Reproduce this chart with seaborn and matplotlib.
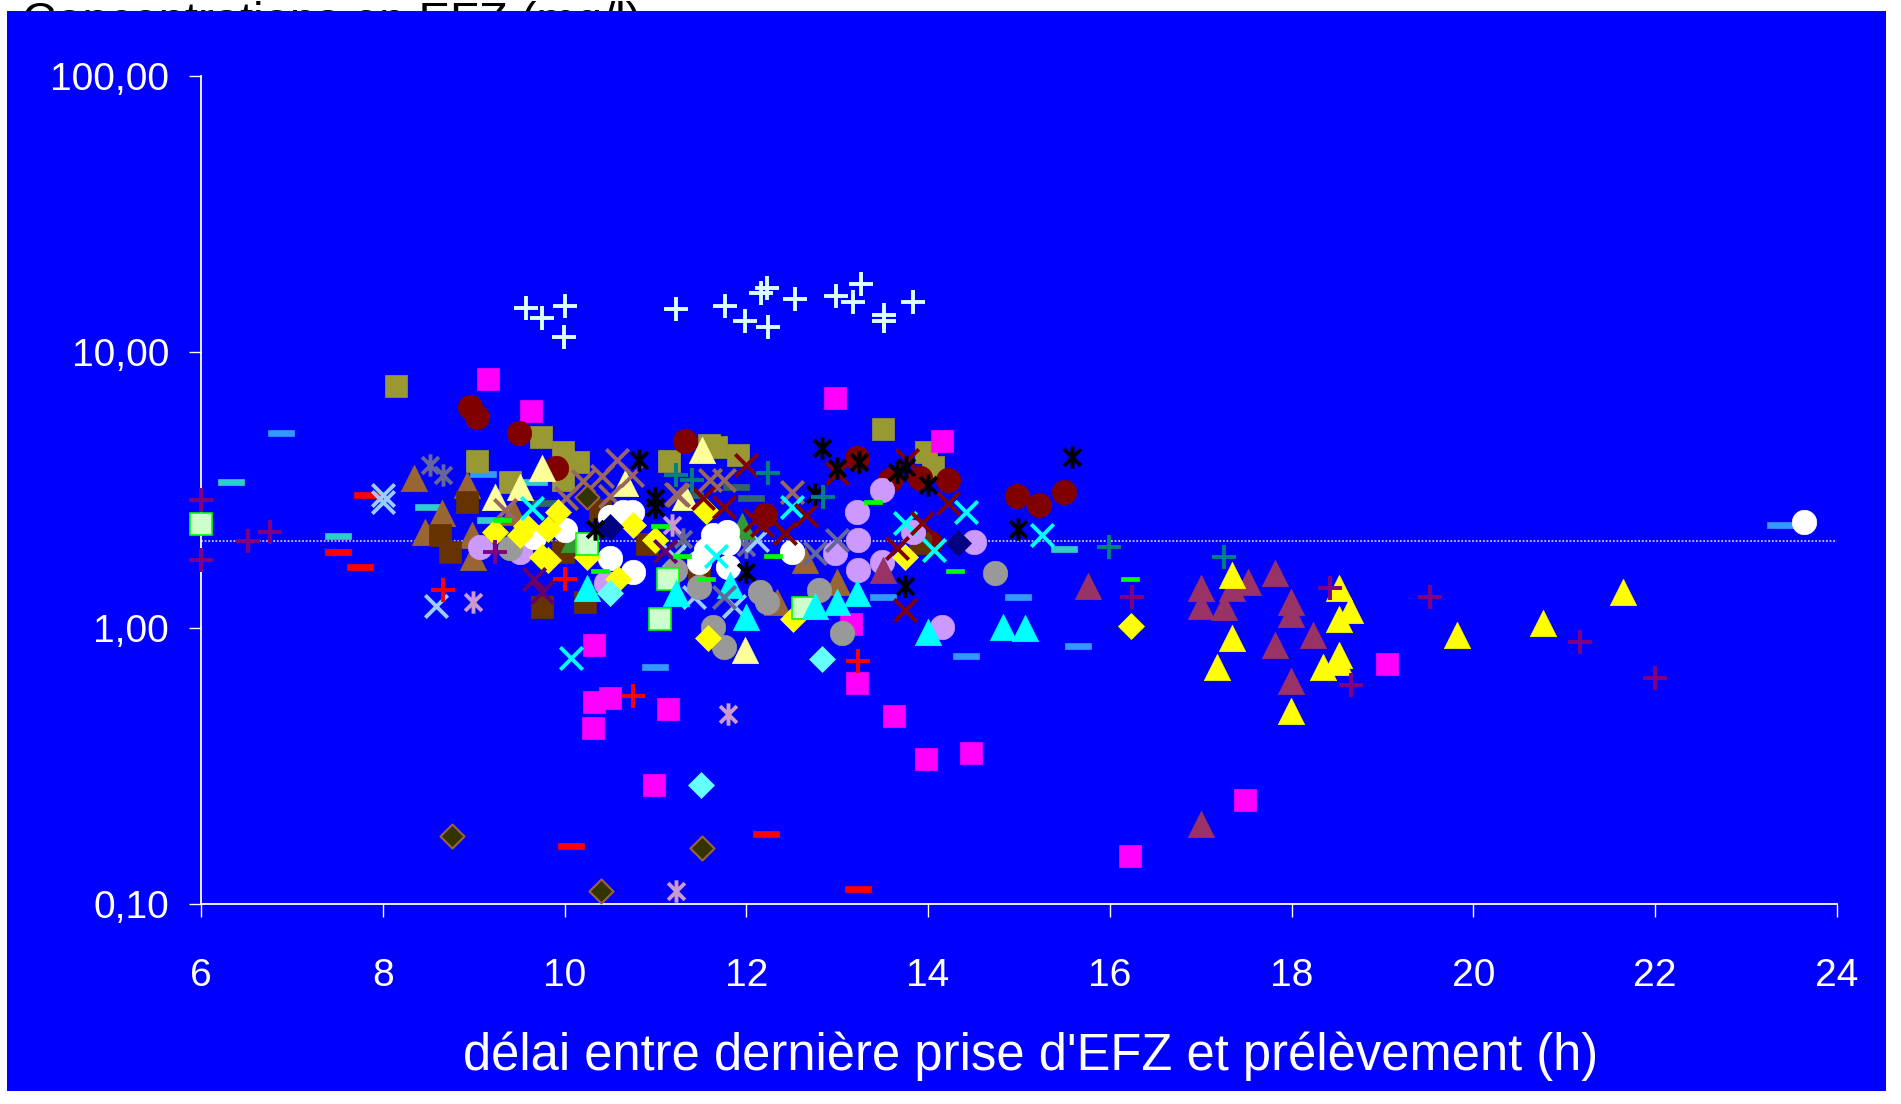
import matplotlib
matplotlib.use("Agg")
import matplotlib.pyplot as plt
import seaborn as sns
from matplotlib.patches import Rectangle
from matplotlib.path import Path
from matplotlib.ticker import FixedLocator, FixedFormatter, NullLocator

# données (délai en h, concentration en mg/l), une série par patient
wplus_x = [9.58, 9.75, 10.0, 9.99, 11.23, 11.76, 11.99, 12.16, 12.23, 12.24, 12.53, 12.99, 13.17, 13.26, 13.51, 13.51, 13.83]
wplus_y = [14.4, 13.3, 14.7, 11.3, 14.3, 14.7, 12.9, 16.3, 17.1, 12.3, 15.5, 16.0, 15.2, 17.7, 12.9, 13.6, 15.2]

magsq_x = [9.16, 9.63, 12.98, 14.15, 13.15, 13.22, 10.32, 10.32, 10.50, 10.31, 10.98, 11.14, 13.63, 13.98, 14.47, 17.49, 16.22, 19.05]
magsq_y = [7.95, 6.1, 6.8, 4.75, 1.03, 0.63, 0.87, 0.54, 0.56, 0.436, 0.27, 0.51, 0.48, 0.336, 0.353, 0.238, 0.149, 0.74]

olivesq_x = [8.15, 9.04, 9.40, 9.74, 9.98, 10.15, 9.98, 11.15, 11.59, 11.67, 11.91, 13.50, 13.98, 14.05]
olivesq_y = [7.56, 4.04, 3.37, 4.94, 4.33, 4.0, 3.43, 4.04, 4.6, 4.51, 4.25, 5.25, 4.33, 3.84]

redcirc_x = [8.96, 9.04, 9.50, 9.91, 11.33, 12.2, 13.22, 13.58, 13.91, 14.22, 14.02, 14.98, 15.22, 15.50]
redcirc_y = [6.3, 5.8, 5.1, 3.8, 4.75, 2.56, 4.12, 3.43, 3.5, 3.43, 2.03, 3.01, 2.78, 3.1]

blkstar_x = [10.34, 10.82, 10.99, 10.99, 12.0, 12.75, 12.83, 13.0, 13.24, 13.66, 13.76, 14.0, 13.75, 14.99, 15.58]
blkstar_y = [2.29, 4.07, 2.95, 2.75, 1.59, 3.07, 4.5, 3.8, 4.0, 3.68, 3.84, 3.3, 1.42, 2.29, 4.16]

rosyx_x = [9.35, 10.02, 10.41, 10.58, 10.74, 11.23, 11.25, 11.6, 11.75, 12.5, 10.2, 10.5]
rosyx_y = [2.67, 2.95, 3.54, 4.07, 3.57, 3.07, 3.04, 3.43, 3.43, 3.12, 3.4, 3.0]

redx_x = [11.52, 11.75, 12.0, 12.1, 12.17, 12.42, 12.66, 13.0, 13.66, 13.75, 13.77, 13.93, 14.22]
redx_y = [2.95, 2.75, 3.91, 2.46, 2.36, 2.2, 2.56, 3.65, 1.95, 1.16, 4.07, 2.41, 2.83]

cyanx_x = [9.64, 10.07, 11.67, 12.5, 13.75, 14.07, 14.42, 15.25]
cyanx_y = [2.72, 0.78, 1.83, 2.75, 2.41, 1.91, 2.64, 2.18]

lbluex_x = [8.0, 8.0, 8.59, 11.42, 11.86, 12.12, 11.2]
lbluex_y = [3.04, 2.86, 1.2, 1.29, 1.2, 2.09, 1.83]

lavstar_x = [8.99, 11.23, 11.8, 11.18]
lavstar_y = [1.24, 0.111, 0.49, 2.36]

slatestar_x = [8.52, 8.66, 12.0, 11.3]
slatestar_y = [3.91, 3.57, 1.97, 2.1]

slatex_x = [11.75, 13.0, 12.75]
slatex_y = [1.3, 2.09, 1.87]

browntri_x = [8.34, 8.93, 8.65, 8.46, 8.98, 8.99, 9.43, 12.34, 13.0, 12.65]
browntri_y = [3.5, 3.3, 2.6, 2.22, 2.18, 1.81, 2.64, 1.24, 1.47, 1.76]

mauvetri_x = [13.5, 15.76, 17.0, 17.0, 17.34, 17.52, 17.25, 17.82, 17.99, 17.99, 18.24, 17.82, 17.99, 17.0]
mauvetri_y = [1.62, 1.42, 1.40, 1.2, 1.40, 1.47, 1.19, 1.58, 1.24, 1.12, 0.94, 0.87, 0.64, 0.195]

yeltri_x = [17.34, 17.34, 17.18, 18.52, 18.64, 18.52, 18.52, 18.35, 18.52, 17.99, 19.82, 20.76, 21.65]
yeltri_y = [1.56, 0.92, 0.72, 1.40, 1.16, 1.08, 0.80, 0.72, 0.75, 0.50, 0.94, 1.04, 1.35]

cyantri_x = [10.25, 11.23, 11.82, 12.0, 12.75, 13.0, 13.22, 14.0, 14.82, 15.07]
cyantri_y = [1.40, 1.34, 1.43, 1.1, 1.2, 1.24, 1.34, 0.97, 1.01, 1.0]

paletri_x = [9.23, 9.51, 9.75, 10.67, 11.33, 11.51, 11.98]
paletri_y = [2.98, 3.23, 3.8, 3.36, 2.98, 4.42, 0.83]

greentri_x = [11.95, 10.1]
greentri_y = [2.34, 2.1]

whitecirc_x = [9.66, 10.0, 10.5, 10.5, 10.64, 10.74, 10.75, 11.48, 11.56, 11.63, 11.79, 11.8, 11.8, 12.5, 23.64]
whitecirc_y = [2.13, 2.27, 2.53, 1.80, 2.64, 2.64, 1.59, 1.74, 1.91, 2.18, 2.22, 2.03, 1.66, 1.89, 2.43]

graycirc_x = [9.4, 11.22, 11.48, 11.63, 11.75, 12.15, 12.23, 12.8, 13.05, 14.74]
graycirc_y = [1.95, 1.62, 1.41, 1.01, 0.85, 1.35, 1.24, 1.37, 0.96, 1.58]

lavcirc_x = [9.07, 9.51, 10.46, 12.98, 13.22, 13.23, 13.23, 13.49, 13.49, 13.83, 14.5, 14.15]
lavcirc_y = [1.97, 1.89, 1.45, 1.87, 2.64, 2.09, 1.62, 3.17, 1.73, 2.22, 2.05, 1.01]

yeldia_x = [9.23, 9.51, 9.58, 9.75, 9.82, 9.82, 9.93, 10.25, 10.59, 10.75, 10.99, 11.56, 11.58, 12.51, 13.75, 16.23]
yeldia_y = [2.22, 2.18, 2.34, 1.81, 2.29, 1.76, 2.64, 1.81, 1.51, 2.36, 2.09, 2.66, 0.92, 1.08, 1.81, 1.02]

brownsq_x = [8.63, 8.74, 8.93, 9.75, 9.98, 10.23, 10.39, 10.91, 11.48, 13.91]
brownsq_y = [2.18, 1.89, 2.86, 1.19, 1.89, 1.24, 2.67, 2.01, 1.59, 2.03]

greensq_x = [6.0, 10.25, 11.05, 11.14, 12.62]
greensq_y = [2.38, 2.01, 1.08, 1.50, 1.18]

cyandia_x = [10.5, 11.5, 12.83]
cyandia_y = [1.34, 0.27, 0.77]

olivedia_x = [8.76, 10.25, 10.4, 11.51]
olivedia_y = [0.177, 2.98, 0.111, 0.159]

navydia_x = [10.5, 14.33]
navydia_y = [2.32, 2.03]

redplus_x = [8.66, 10.0, 10.75, 13.23]
redplus_y = [1.37, 1.51, 0.568, 0.76]

reddash_x = [7.51, 7.75, 7.83, 10.07, 12.22, 13.23]
reddash_y = [1.89, 1.66, 3.04, 0.162, 0.179, 0.113]

tealdash_x = [6.33, 7.51, 8.5, 9.18, 9.66, 15.5]
tealdash_y = [3.37, 2.16, 2.75, 2.46, 3.37, 1.93]

bluedash_x = [6.88, 9.1, 10.99, 13.5, 14.42, 14.99, 15.65, 23.37]
bluedash_y = [5.09, 3.6, 0.72, 1.29, 0.79, 1.3, 0.86, 2.36]

greendash_x = [9.31, 10.39, 11.05, 11.29, 11.56, 12.29, 13.39, 14.3, 16.22]
greendash_y = [2.46, 1.61, 2.34, 1.83, 1.50, 1.83, 2.86, 1.61, 1.50]

dkteal_x = [9.79, 11.38, 11.89, 12.05]
dkteal_y = [2.83, 3.04, 3.23, 2.95]

tealplus_x = [11.23, 11.4, 12.24, 12.84, 15.99, 17.25]
tealplus_y = [3.57, 3.43, 3.65, 2.98, 1.97, 1.81]

purpplus_x = [6.0, 6.0, 6.52, 6.76, 9.23, 16.24, 18.42, 18.65, 19.52, 21.17, 22.0]
purpplus_y = [2.92, 1.76, 2.07, 2.22, 1.89, 1.30, 1.40, 0.62, 1.30, 0.89, 0.66]

purpx_x = [9.66, 9.75, 11.1]
purpx_y = [1.50, 1.35, 1.9]

ref_level = 2.07
xticks = [6, 8, 10, 12, 14, 16, 18, 20, 22, 24]
yticks = [0.1, 1, 10, 100]
ytick_labels = ["0,10", "1,00", "10,00", "100,00"]

# marqueurs spéciaux (style Excel)
star = Path([(0, -1), (0, 1), (-0.75, -0.75), (0.75, 0.75), (-0.75, 0.75), (0.75, -0.75)],
            [Path.MOVETO, Path.LINETO, Path.MOVETO, Path.LINETO, Path.MOVETO, Path.LINETO])
dash = [(-1, -0.26), (1, -0.26), (1, 0.26), (-1, 0.26), (-1, -0.26)]

# (x, y, marqueur, taille, couleur, bord, épaisseur)
series = [
    (reddash_x, reddash_y, dash, 330, "#FF0000", "#FF0000", 0.5),
    (tealdash_x, tealdash_y, dash, 330, "#33CCCC", "#33CCCC", 0.5),
    (bluedash_x, bluedash_y, dash, 330, "#3399FF", "#3399FF", 0.5),
    (dkteal_x, dkteal_y, dash, 330, "#336666", "#336666", 0.5),
    (olivesq_x, olivesq_y, "s", 240, "#999933", "#999933", 0.5),
    (magsq_x, magsq_y, "s", 240, "#FF00FF", "#FF00FF", 0.5),
    (redcirc_x, redcirc_y, "o", 310, "#800000", "#800000", 0.5),
    (browntri_x, browntri_y, "^", 360, "#996633", "#996633", 0.5),
    (paletri_x, paletri_y, "^", 360, "#FFFF99", "#FFFF99", 0.5),
    (brownsq_x, brownsq_y, "s", 240, "#663300", "#663300", 0.5),
    (rosyx_x, rosyx_y, "x", 260, "#996666", None, 2.8),
    (slatestar_x, slatestar_y, star, 260, "#666699", "#666699", 2.8),
    (lbluex_x, lbluex_y, "x", 260, "#99CCFF", None, 2.8),
    (greentri_x, greentri_y, "^", 360, "#339933", "#339933", 0.5),
    (lavcirc_x, lavcirc_y, "o", 310, "#CC99FF", "#CC99FF", 0.5),
    (graycirc_x, graycirc_y, "o", 310, "#999999", "#999999", 0.5),
    (whitecirc_x, whitecirc_y, "o", 310, "#FFFFFF", "#FFFFFF", 0.5),
    (yeldia_x, yeldia_y, "D", 175, "#FFFF00", "#FFFF00", 0.5),
    (greensq_x, greensq_y, "s", 240, "#CCFFCC", "#00FF00", 1.2),
    (cyandia_x, cyandia_y, "D", 175, "#66FFFF", "#66FFFF", 0.5),
    (olivedia_x, olivedia_y, "D", 150, "#333300", "#996633", 1.5),
    (navydia_x, navydia_y, "D", 175, "#000080", "#000080", 0.5),
    (cyantri_x, cyantri_y, "^", 360, "#00FFFF", "#00FFFF", 0.5),
    (mauvetri_x, mauvetri_y, "^", 360, "#993366", "#993366", 0.5),
    (yeltri_x, yeltri_y, "^", 360, "#FFFF00", "#FFFF00", 0.5),
    (purpx_x, purpx_y, "x", 260, "#660066", None, 2.8),
    (cyanx_x, cyanx_y, "x", 260, "#00FFFF", None, 2.8),
    (redx_x, redx_y, "x", 260, "#800000", None, 2.8),
    (slatex_x, slatex_y, "x", 260, "#666699", None, 2.8),
    (lavstar_x, lavstar_y, star, 260, "#CC99CC", "#CC99CC", 2.8),
    (blkstar_x, blkstar_y, star, 260, "#000000", "#000000", 2.8),
    (greendash_x, greendash_y, dash, 150, "#00FF00", "#00FF00", 0.5),
    (tealplus_x, tealplus_y, "+", 290, "#008080", None, 2.8),
    (purpplus_x, purpplus_y, "+", 290, "#800080", None, 2.8),
    (redplus_x, redplus_y, "+", 290, "#FF0000", None, 2.8),
    (wplus_x, wplus_y, "+", 290, "#DDFFFF", None, 2.8),
]

sns.set_theme(style="white")
plt.rcParams["font.family"] = ["Liberation Sans", "DejaVu Sans"]

fig = plt.figure(figsize=(19.01, 11.04), dpi=100)
fig.patch.set_facecolor("white")

# titre (caché en grande partie par le cadre bleu, comme sur l'original)
fig.text(22 / 1901, 1 - 35 / 1104, "Concentrations en EFZ (mg/l)", fontsize=34,
         color="black", va="baseline", ha="left", zorder=-2)
fig.add_artist(Rectangle((7 / 1901, 13 / 1104), 1879 / 1901, 1080 / 1104,
                         transform=fig.transFigure, facecolor="#0000FF",
                         edgecolor="none", zorder=-1))

ax = fig.add_axes([201 / 1901, 200 / 1104, 1636 / 1901, 828 / 1104])
ax.patch.set_visible(False)

for xs, ys, m, s, c, ec, lw in series:
    kw = dict(marker=m, s=s, color=c, linewidth=lw, clip_on=False, zorder=3)
    if ec is not None:
        kw["edgecolor"] = ec
    sns.scatterplot(x=xs, y=ys, ax=ax, **kw)

ax.axhline(ref_level, color="#C8C8C8", linestyle=(0, (1, 1)), linewidth=1.3, zorder=1)

ax.set_yscale("log")
ax.set_xlim(6, 24)
ax.set_ylim(0.1, 100)
ax.xaxis.set_major_locator(FixedLocator(xticks))
ax.set_xticklabels([str(t) for t in xticks])
ax.yaxis.set_major_locator(FixedLocator(yticks))
ax.yaxis.set_major_formatter(FixedFormatter(ytick_labels))
ax.yaxis.set_minor_locator(NullLocator())

for side in ["top", "right"]:
    ax.spines[side].set_visible(False)
for side in ["left", "bottom"]:
    ax.spines[side].set_color("white")
    ax.spines[side].set_linewidth(1.3)

ax.tick_params(axis="both", colors="white", labelsize=28, direction="out",
               length=9, width=1.0, left=True, bottom=True)
ax.tick_params(axis="x", pad=30)
ax.tick_params(axis="y", pad=14)
ax.grid(False)

ax.set_xlabel("délai entre dernière prise d'EFZ et prélèvement (h)",
              fontsize=36.5, color="white", labelpad=27)
ax.xaxis.label.set_x(0.507)
ax.set_ylabel("")

fig.savefig("out.png", dpi=100)
